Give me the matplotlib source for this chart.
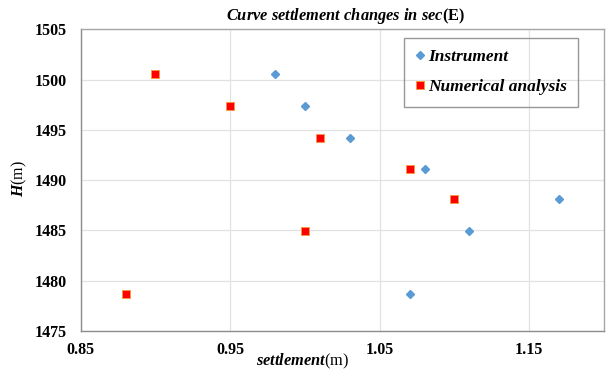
import numpy as np
import matplotlib
matplotlib.use('Agg')
import matplotlib.pyplot as plt

# dati: quota H (m) e cedimento misurato / calcolato
heights = [1500.6, 1497.4, 1494.2, 1491.1, 1488.1, 1484.9, 1478.7]
settle_instrument = [0.98, 1.00, 1.03, 1.08, 1.17, 1.11, 1.07]
settle_numerical = [0.90, 0.95, 1.01, 1.07, 1.10, 1.00, 0.88]

x_ticks = [0.85, 0.95, 1.05, 1.15]
y_ticks = [1475, 1480, 1485, 1490, 1495, 1500, 1505]

inst_color = '#5B9BD5'
num_color = '#FF0000'
grid_color = '#E2E2E2'
frame_color = '#A6A6A6'

plt.rcParams['font.family'] = 'Liberation Serif'
plt.rcParams['font.weight'] = 'bold'
plt.rcParams['mathtext.fontset'] = 'custom'
plt.rcParams['mathtext.it'] = 'Liberation Serif:italic:bold'
plt.rcParams['mathtext.rm'] = 'Liberation Serif:bold'

fig = plt.figure(figsize=(6.06, 3.76), dpi=100)
ax = fig.add_axes([0.1332, 0.1197, 0.8635, 0.8024])

ax.plot(settle_instrument, heights, ls='none', marker='D', ms=4.2,
        color=inst_color, mec=inst_color, label='Instrument', zorder=3)
ax.plot(settle_numerical, heights, ls='none', marker='s', ms=5.6,
        color=num_color, mec='#F79646', mew=0.7, label='Numerical analysis', zorder=3)

ax.set_xlim(0.85, 1.2)
ax.set_ylim(1475, 1505)
ax.set_xticks(x_ticks)
ax.set_yticks(y_ticks)
ax.set_xticklabels([f'{v:.2f}' for v in x_ticks])
ax.set_yticklabels([str(v) for v in y_ticks])
ax.tick_params(axis='both', length=0, labelsize=11.5)
ax.tick_params(axis='x', pad=8)
ax.tick_params(axis='y', pad=10)

ax.grid(True, color=grid_color, lw=0.9)
ax.set_axisbelow(True)
for spine in ax.spines.values():
    spine.set_color(frame_color)
    spine.set_linewidth(1.0)
ax.spines['left'].set_color('#8C8C8C')
ax.spines['bottom'].set_color('#8C8C8C')

# titolo e etichette: parte in corsivo, unità dritte
ax.text(0.507, 1.012, r'$\mathit{Curve\ settlement\ changes\ in\ sec}$(E)',
        transform=ax.transAxes, ha='center', va='bottom', fontsize=11.8)
ax.set_xlabel(r'$\mathit{settlement}$(m)', fontsize=11.8)
ax.xaxis.set_label_coords(0.425, -0.07)
ax.set_ylabel(r'$\mathit{H}$(m)', fontsize=11.5)
ax.yaxis.set_label_coords(-0.098, 0.507)

leg = ax.legend(loc='upper left', bbox_to_anchor=(404 / 606, 1 - 38 / 376),
                bbox_transform=fig.transFigure, borderaxespad=0,
                prop={'family': 'Liberation Serif', 'style': 'italic',
                      'weight': 'bold', 'size': 12.5},
                handlelength=0.6, handletextpad=0.15, labelspacing=0.8,
                borderpad=0.65, numpoints=1, fancybox=False, frameon=True)
leg.get_frame().set_facecolor('none')
leg.get_frame().set_edgecolor('#7F7F7F')
leg.get_frame().set_linewidth(1.0)

fig.savefig('out.png', dpi=100)
